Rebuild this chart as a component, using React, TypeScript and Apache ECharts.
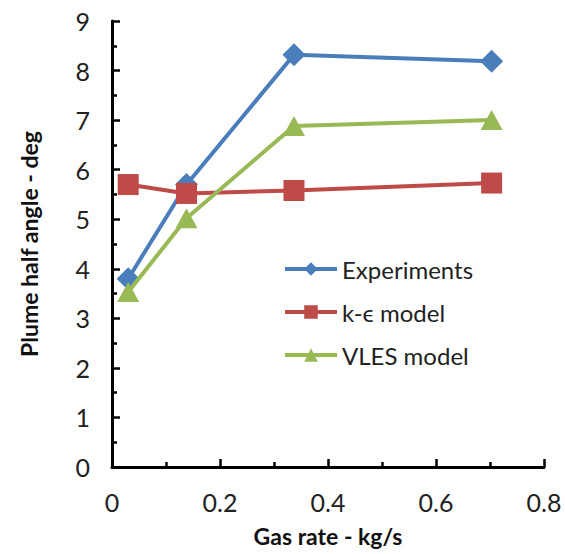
import React, { useEffect, useRef } from "react";
import * as echarts from "echarts";

const gasRate = [0.03, 0.138, 0.337, 0.703];
const experiments = [3.8, 5.7, 8.32, 8.19];
const kEpsilon = [5.7, 5.52, 5.58, 5.73];
const vles = [3.53, 5.02, 6.88, 7.0];
const seriesNames = ["Experiments", "k-ϵ model", "VLES model"];

const FONT = "Lato, 'Open Sans', sans-serif";

export default function App() {
  const ref = useRef<HTMLDivElement>(null);
  useEffect(() => {
    if (!ref.current) return;
    const chart = echarts.init(ref.current, undefined, { renderer: "svg" });
    const mk = (vals: number[]) => gasRate.map((x, i) => [x, vals[i]]);
    chart.setOption({
      animation: false,
      backgroundColor: "#fff",
      textStyle: { fontFamily: FONT },
      grid: { left: 112, right: 21, top: 21, bottom: 87 },
      legend: {
        left: 283,
        top: 257,
        padding: 0,
        orient: "vertical",
        itemWidth: 52,
        itemHeight: 17,
        itemGap: 19,
        lineStyle: { width: 4 },
        textStyle: { fontSize: 24, color: "#222", fontFamily: FONT },
        data: seriesNames,
      },
      xAxis: {
        type: "value",
        min: 0,
        max: 0.8,
        interval: 0.2,
        name: "Gas rate - kg/s",
        nameLocation: "middle",
        nameGap: 57,
        nameTextStyle: { fontSize: 23, fontWeight: "bold", color: "#111", fontFamily: FONT },
        axisLine: { show: true, lineStyle: { color: "#000", width: 3 } },
        axisTick: { show: true, inside: true, length: 8, lineStyle: { color: "#000", width: 2.5 } },
        minorTick: { show: true, splitNumber: 2, length: 5, lineStyle: { color: "#000", width: 2.5 } },
        splitLine: { show: false },
        axisLabel: { fontSize: 25, color: "#222", margin: 22, formatter: (v: number) => String(Math.round(v * 10) / 10) },
      },
      yAxis: {
        type: "value",
        min: 0,
        max: 9,
        interval: 1,
        name: "Plume half angle - deg",
        nameLocation: "middle",
        nameGap: 72,
        nameRotate: 90,
        nameTextStyle: { fontSize: 23, fontWeight: "bold", color: "#111", fontFamily: FONT },
        axisLine: { show: true, lineStyle: { color: "#000", width: 3 } },
        axisTick: { show: true, inside: true, length: 8, lineStyle: { color: "#000", width: 2.5 } },
        minorTick: { show: true, splitNumber: 2, length: 5, lineStyle: { color: "#000", width: 2.5 } },
        splitLine: { show: false },
        axisLabel: { fontSize: 25, color: "#222", margin: 22 },
      },
      series: [
        {
          name: seriesNames[0],
          type: "line",
          data: mk(experiments),
          symbol: "diamond",
          symbolSize: 23,
          itemStyle: { color: "#4A7EBB" },
          lineStyle: { color: "#4A7EBB", width: 4 },
          z: 3,
        },
        {
          name: seriesNames[1],
          type: "line",
          data: mk(kEpsilon),
          symbol: "rect",
          symbolSize: 21,
          itemStyle: { color: "#BE4B48" },
          lineStyle: { color: "#BE4B48", width: 4 },
          z: 4,
        },
        {
          name: seriesNames[2],
          type: "line",
          data: mk(vles),
          symbol: "triangle",
          symbolSize: [22, 20],
          itemStyle: { color: "#98B954" },
          lineStyle: { color: "#98B954", width: 4 },
          z: 5,
        },
      ],
    });
    return () => chart.dispose();
  }, []);
  return (
    <div
      ref={ref}
      style={{ position: "absolute", left: 0, top: 0, width: 565, height: 554 }}
    />
  );
}
